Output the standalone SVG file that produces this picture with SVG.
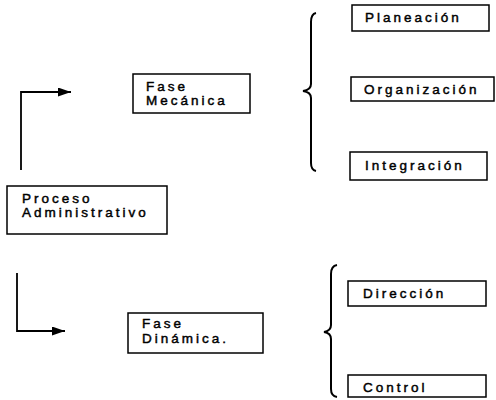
<svg xmlns="http://www.w3.org/2000/svg" width="496" height="400" viewBox="0 0 496 400">
<defs>
<marker id="ah" markerWidth="13" markerHeight="9" refX="13" refY="4.5" orient="auto" markerUnits="userSpaceOnUse">
<path d="M0,0 L13,4.5 L0,9 Z" fill="#000"/>
</marker>
<style>
.box{fill:#fff;stroke:#000;stroke-width:1.5}
.t{font-family:"Liberation Sans",Arial,sans-serif;font-size:13.5px;letter-spacing:3px;fill:#000;stroke:#000;stroke-width:0.45}
.ln{fill:none;stroke:#000;stroke-width:1.8}
.br{fill:none;stroke:#000;stroke-width:2}
</style>
</defs>
<rect width="496" height="400" fill="#fff"/>
<g id="connectors">
<path class="ln" d="M21,170 L21,92 L71,92" marker-end="url(#ah)"/>
<path class="ln" d="M17,273 L17,331 L65,331" marker-end="url(#ah)"/>
<path class="br" d="M316,13 Q311,14 311,22 L311,84 Q311,90 303,91 Q311,92 311,98 L311,163 Q311,170 316,171"/>
<path class="br" d="M337,265 Q331,266 331,274 L331,325 Q331,331 324,332 Q331,333 331,339 L331,389 Q331,396 337,397"/>
</g>
<g id="proceso">
<rect class="box" x="7" y="186" width="160" height="48"/>
<text class="t" x="22" y="203">Proceso</text>
<text class="t" x="22" y="217">Administrativo</text>
</g>
<g id="fase-mecanica">
<rect class="box" x="133" y="74" width="117" height="39"/>
<text class="t" x="146" y="91">Fase</text>
<text class="t" x="146" y="105">Mecánica</text>
</g>
<g id="fase-dinamica">
<rect class="box" x="128" y="313" width="135" height="40"/>
<text class="t" x="142" y="328">Fase</text>
<text class="t" x="142" y="343">Dinámica.</text>
</g>
<g id="planeacion">
<rect class="box" x="352" y="5" width="137" height="26"/>
<text class="t" x="365" y="22">Planeación</text>
</g>
<g id="organizacion">
<rect class="box" x="351" y="77" width="143" height="24"/>
<text class="t" x="364" y="94">Organización</text>
</g>
<g id="integracion">
<rect class="box" x="350" y="152" width="137" height="28"/>
<text class="t" x="365" y="170">Integración</text>
</g>
<g id="direccion">
<rect class="box" x="348" y="281" width="138" height="25"/>
<text class="t" x="363" y="298">Dirección</text>
</g>
<g id="control">
<rect class="box" x="348" y="375" width="138" height="22"/>
<text class="t" x="363" y="392">Control</text>
</g>
</svg>
